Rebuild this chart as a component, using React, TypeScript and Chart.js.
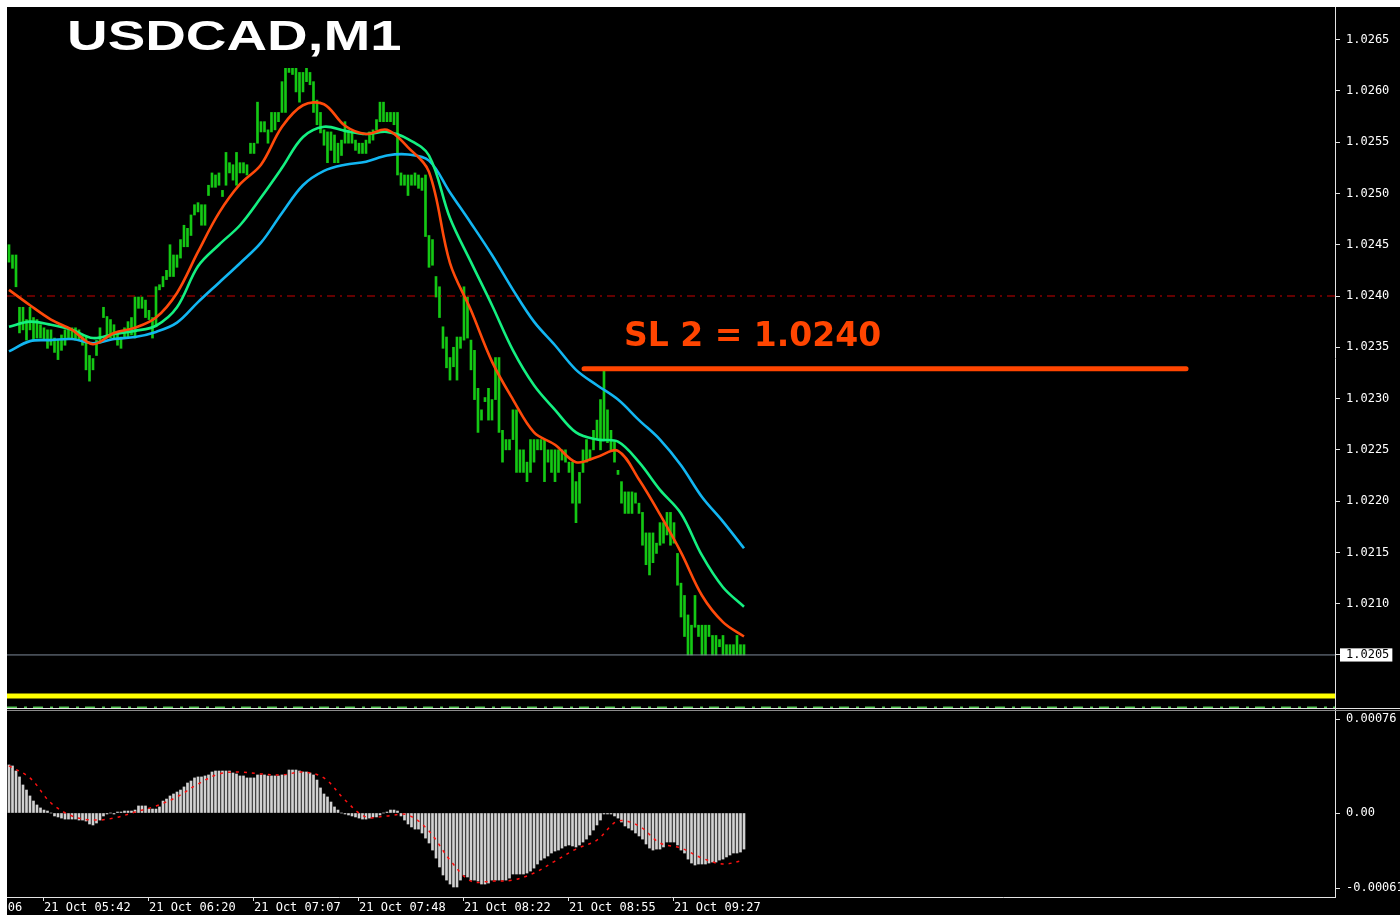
import React, { useEffect, useRef } from "react";
import { Chart, registerables } from "chart.js";
Chart.register(...registerables);

// ---------- data ----------
const BAR_HIGH = [
  1.0245, 1.0244, 1.0244, 1.02389, 1.02389, 1.02377, 1.02389, 1.02379, 1.02377, 1.02372,
  1.02369, 1.02367, 1.02367, 1.02359, 1.02357, 1.02362, 1.02367, 1.02369, 1.02369, 1.02369,
  1.02367, 1.02362, 1.0236, 1.02342, 1.02339, 1.02357, 1.02369, 1.02389, 1.0238, 1.02377,
  1.02372, 1.02365, 1.0236, 1.02369, 1.02375, 1.02379, 1.02399, 1.02399, 1.02399, 1.02396,
  1.02386, 1.02379, 1.02409, 1.02411, 1.02419, 1.02425, 1.0245, 1.0244, 1.0244, 1.02455,
  1.02469, 1.02466, 1.02479, 1.02489, 1.02491, 1.02489, 1.02489, 1.02508, 1.0252, 1.02518,
  1.0252, 1.02503, 1.0254, 1.0253, 1.02528, 1.0254, 1.0253, 1.0253, 1.02528, 1.02549,
  1.02549, 1.02589, 1.0257, 1.0257, 1.02562, 1.02579, 1.02579, 1.02579, 1.02609, 1.02622,
  1.02622, 1.02622, 1.02622, 1.02618, 1.02618, 1.02622, 1.02618, 1.02609, 1.02591, 1.02579,
  1.02562, 1.0256, 1.0256, 1.02557, 1.02549, 1.02552, 1.0257, 1.02562, 1.02559, 1.02552,
  1.02549, 1.02549, 1.02552, 1.0256, 1.02562, 1.02572, 1.02589, 1.02589, 1.02579, 1.02579,
  1.02579, 1.02579, 1.0252, 1.02518, 1.02518, 1.02518, 1.0252, 1.02518, 1.02515, 1.02518,
  1.02459, 1.02455, 1.02419, 1.02409, 1.0237, 1.0236, 1.0234, 1.0235, 1.0236, 1.0236,
  1.02409, 1.02399, 1.02357, 1.02347, 1.0231, 1.02289, 1.02301, 1.0231, 1.02299, 1.0234,
  1.0234, 1.02269, 1.0226, 1.0226, 1.02289, 1.02289, 1.0225, 1.0225, 1.02238, 1.0226,
  1.0226, 1.0226, 1.0226, 1.0226, 1.0225, 1.0225, 1.0225, 1.0225, 1.0225, 1.0225,
  1.02238, 1.02238, 1.02219, 1.02228, 1.0225, 1.0226, 1.0225, 1.02269, 1.02279, 1.02299,
  1.0233, 1.02289, 1.02269, 1.02258, 1.0223, 1.02219, 1.02209, 1.02209, 1.02209, 1.02208,
  1.02198, 1.02189, 1.02169, 1.02169, 1.02169, 1.02159, 1.02179, 1.02179, 1.02189, 1.02189,
  1.02179, 1.02149, 1.0212, 1.02108, 1.02089, 1.02079, 1.02108, 1.02079, 1.02079, 1.02079,
  1.02079, 1.02069, 1.02069, 1.02065, 1.02069, 1.0206, 1.0206, 1.0206, 1.02069, 1.0206,
  1.0206,
];
const BAR_LOW = [
  1.02433, 1.02427, 1.02409, 1.02364, 1.02367, 1.02357, 1.02367, 1.02357, 1.02359, 1.02359,
  1.02357, 1.02349, 1.02352, 1.02345, 1.02338, 1.02347, 1.02352, 1.02359, 1.02359, 1.02357,
  1.02357, 1.02352, 1.02328, 1.02317, 1.02328, 1.02342, 1.02354, 1.02379, 1.02359, 1.02359,
  1.02359, 1.02352, 1.02349, 1.02359, 1.02359, 1.02362, 1.02359, 1.02388, 1.02388, 1.02379,
  1.02377, 1.02359, 1.0237, 1.02406, 1.02409, 1.02416, 1.02419, 1.02419, 1.02428, 1.02437,
  1.02448, 1.02448, 1.02459, 1.02479, 1.02482, 1.02469, 1.02469, 1.02498, 1.02506, 1.02506,
  1.02508, 1.02497, 1.02508, 1.0252, 1.02513, 1.02508, 1.0252, 1.0252, 1.02518, 1.02539,
  1.02539, 1.02549, 1.0256, 1.0256, 1.02549, 1.0256, 1.02562, 1.0257, 1.02579, 1.02579,
  1.02618, 1.02616, 1.02599, 1.02589, 1.02599, 1.02609, 1.02606, 1.02579, 1.02567, 1.02559,
  1.02547, 1.0253, 1.02542, 1.0253, 1.0253, 1.02537, 1.02549, 1.02549, 1.02549, 1.02542,
  1.02539, 1.02539, 1.02539, 1.02549, 1.02552, 1.02562, 1.0257, 1.0257, 1.0257, 1.0257,
  1.02567, 1.02518, 1.02508, 1.02508, 1.02498, 1.02508, 1.02508, 1.02505, 1.02503, 1.02458,
  1.02428, 1.0243, 1.02399, 1.02379, 1.02349, 1.0233, 1.02318, 1.02331, 1.02318, 1.02349,
  1.02357, 1.02359, 1.02328, 1.02299, 1.02267, 1.02279, 1.02297, 1.02279, 1.02279, 1.02299,
  1.02267, 1.02238, 1.0225, 1.0225, 1.0226, 1.02228, 1.02228, 1.02228, 1.02219, 1.02228,
  1.02238, 1.0225, 1.0225, 1.02219, 1.02238, 1.02228, 1.02219, 1.02228, 1.0224, 1.02238,
  1.02228, 1.02198, 1.02179, 1.02198, 1.02228, 1.02238, 1.0224, 1.0225, 1.0226, 1.0225,
  1.0226, 1.02257, 1.0225, 1.02238, 1.02226, 1.02198, 1.02188, 1.02188, 1.02188, 1.02198,
  1.02188, 1.02157, 1.02138, 1.02128, 1.0214, 1.02149, 1.02157, 1.02159, 1.02167, 1.02157,
  1.02159, 1.02118, 1.02087, 1.02068, 1.0205, 1.0205, 1.02077, 1.02068, 1.0205, 1.0205,
  1.02068, 1.0205, 1.0205, 1.02058, 1.0205, 1.0205, 1.0205, 1.0205, 1.0205, 1.0205,
  1.0205,
];

const MA_INDEX = [
  0, 6, 12, 18, 24, 30, 36, 42, 48, 54, 60, 66, 72, 78, 84, 90, 96, 102,
  108, 114, 120, 126, 132, 138, 144, 150, 156, 162, 168, 174, 180, 186, 192, 198, 204, 210,
];
const MA_FAST = [
  1.02406, 1.02391, 1.02377, 1.02367, 1.02353, 1.02364, 1.02369, 1.02379, 1.02403, 1.02443,
  1.02481, 1.02509, 1.02528, 1.02565, 1.02586, 1.02587, 1.02566, 1.02558, 1.02562, 1.02545,
  1.02521, 1.02432, 1.02386, 1.02336, 1.02299, 1.02267, 1.02255, 1.02238, 1.02243, 1.02249,
  1.02221, 1.02187, 1.0215, 1.02108, 1.02082, 1.02068,
];
const MA_MID = [
  1.0237, 1.02375, 1.02372, 1.02367, 1.02359, 1.02363, 1.02366, 1.02371, 1.02389, 1.02429,
  1.0245, 1.02469, 1.02496, 1.02525, 1.02555, 1.02565, 1.02561, 1.02558, 1.0256, 1.02553,
  1.02537, 1.02476, 1.02433, 1.02391, 1.02347, 1.02313, 1.02289, 1.02267, 1.0226, 1.02258,
  1.02238, 1.02211, 1.02188, 1.02147, 1.02116, 1.02097,
];
const MA_SLOW = [
  1.02346, 1.02356, 1.02357, 1.02358, 1.02354, 1.02358, 1.0236, 1.02365, 1.02374, 1.02394,
  1.02413, 1.02432, 1.02452, 1.02481, 1.02508, 1.02522, 1.02528, 1.02531, 1.02537, 1.02538,
  1.02532, 1.02501, 1.02471, 1.0244, 1.02406, 1.02375, 1.02352, 1.02328, 1.02313, 1.02299,
  1.02279, 1.0226, 1.02235, 1.02204, 1.0218, 1.02154,
];

const MACD_HIST = [
  0.000389, 0.000381, 0.00034, 0.000292, 0.000227, 0.000186, 0.000138, 0.000097, 0.000065, 0.000041,
  0.000024, 0.000016, 0, -0.000024, -0.000032, -0.000041, -0.000049, -0.000049, -0.000049, -0.000049,
  -0.000057, -0.000057, -0.000065, -0.000089, -0.000097, -0.000081, -0.000057, -0.000024, -0.000008, 0,
  -0.000008, 0.000008, 0.000008, 0.000016, 0.000016, 0.000016, 0.000024, 0.000057, 0.000057, 0.000057,
  0.000032, 0.000032, 0.000032, 0.000049, 0.000097, 0.000113, 0.000138, 0.000154, 0.00017, 0.000186,
  0.000211, 0.000243, 0.000259, 0.000284, 0.000292, 0.000292, 0.0003, 0.000308, 0.000332, 0.00034,
  0.00034, 0.00034, 0.00034, 0.00034, 0.000324, 0.000316, 0.0003, 0.0003, 0.000284, 0.000284,
  0.000284, 0.000308, 0.000308, 0.000308, 0.0003, 0.0003, 0.0003, 0.0003, 0.000308, 0.000308,
  0.000348, 0.000348, 0.000348, 0.00034, 0.000332, 0.000332, 0.000324, 0.000308, 0.000267, 0.000203,
  0.000154, 0.00013, 0.000089, 0.000049, 0.000024, 0, -0.000008, -0.000016, -0.000024, -0.000032,
  -0.000041, -0.000049, -0.000049, -0.000041, -0.000032, -0.000032, -0.000016, 0, 0.000008, 0.000024,
  0.000024, 0.000016, -0.000024, -0.000057, -0.000089, -0.000113, -0.00013, -0.00013, -0.000162, -0.000203,
  -0.000243, -0.0003, -0.000365, -0.000437, -0.000502, -0.000543, -0.000575, -0.000599, -0.000599, -0.000543,
  -0.000502, -0.000518, -0.000543, -0.000543, -0.000551, -0.000575, -0.000575, -0.000567, -0.000543, -0.000543,
  -0.000543, -0.000543, -0.000543, -0.000527, -0.000494, -0.000494, -0.000494, -0.000494, -0.000486, -0.00047,
  -0.000446, -0.000413, -0.000381, -0.000365, -0.000348, -0.000324, -0.000308, -0.0003, -0.000284, -0.000267,
  -0.000259, -0.000267, -0.000275, -0.000259, -0.000235, -0.000211, -0.000178, -0.000138, -0.000097, -0.000057,
  -0.000008, -0.000008, -0.000008, -0.000024, -0.000041, -0.000073, -0.000105, -0.000122, -0.000138, -0.000162,
  -0.000186, -0.000211, -0.000251, -0.000284, -0.0003, -0.000292, -0.000292, -0.000275, -0.000235, -0.000235,
  -0.000235, -0.000259, -0.0003, -0.000324, -0.000373, -0.000405, -0.000421, -0.000413, -0.000413, -0.000413,
  -0.000405, -0.000397, -0.000397, -0.000381, -0.000373, -0.000356, -0.00034, -0.000324, -0.000324, -0.000316,
  -0.000292,
];
const MACD_SIGNAL = [
  0.000381, 0.000284, 0.000081, -0.000024, -0.000057, -0.000041, 0.000008, 0.000057, 0.00013, 0.000235,
  0.000316, 0.000332, 0.000316, 0.000308, 0.000332, 0.000284, 0.000105, -0.000032, -0.000024, -0.000016,
  -0.000146, -0.000381, -0.000551, -0.000551, -0.000543, -0.000486, -0.000389, -0.000292, -0.000219, -0.000065,
  -0.000105, -0.000243, -0.000284, -0.000365, -0.000413, -0.000381,
];

const PRICE_TICKS = [
  1.0205, 1.021, 1.0215, 1.022, 1.0225, 1.023, 1.0235, 1.024, 1.0245, 1.025, 1.0255, 1.026, 1.0265,
];
const MACD_TICKS = [0.00076, 0, -0.00061];
const MACD_TICK_LABELS = ["0.00076", "0.00", "-0.00061"];
const TIME_TICK_INDEX = [-21, 10, 40, 70, 100, 130, 160, 190];
const TIME_TICK_LABELS = [
  "21 Oct 05:06", "21 Oct 05:42", "21 Oct 06:20", "21 Oct 07:07",
  "21 Oct 07:48", "21 Oct 08:22", "21 Oct 08:55", "21 Oct 09:27",
];

const LEVEL_SL_DASH = 1.024;
const LEVEL_BID = 1.0205;
const LEVEL_YELLOW = 1.0201;
const LEVEL_GREEN = 1.01999;
const SL_LINE_INDEX = [164.3, 336.3];
const SL_LINE_PRICE = 1.02329;
const SL_TEXT = "SL 2 = 1.0240";
const SL_TEXT_INDEX = 175.7;
const SL_TEXT_PRICE = 1.02351;
const TITLE = "USDCAD,M1";

const X_MIN = -0.57;
const X_MAX = 378.86;
const PRICE_MIN = 1.019973;
const PRICE_MAX = 1.026818;
const MACD_MIN = -0.00068;
const MACD_MAX = 0.000842;

// ---------- helpers ----------
const AXIS_COLOR = "#e4e4e4";
const TICK_FONT = { family: "DejaVu Sans Mono", size: 12, lineHeight: 1.1 };
const isBid = (v: any) => typeof v === "number" && Math.abs(v - LEVEL_BID) < 1e-9;

const hLine = (price: number, color: string, width: number, dash: number[], order: number) => ({
  type: "line" as const,
  data: [
    { x: X_MIN, y: price },
    { x: X_MAX, y: price },
  ],
  borderColor: color,
  borderWidth: width,
  borderDash: dash,
  pointRadius: 0,
  tension: 0,
  order,
});

const maLine = (values: number[], color: string, order: number) => ({
  type: "line" as const,
  data: MA_INDEX.map((x, k) => ({ x, y: values[k] })),
  borderColor: color,
  borderWidth: 2.6,
  pointRadius: 0,
  tension: 0.35,
  order,
});

const topDecor = {
  id: "topDecor",
  afterDraw(chart: any) {
    const { ctx } = chart;
    const xs = chart.scales.x;
    const ys = chart.scales.y;
    ctx.save();
    ctx.fillStyle = "#ff4500";
    ctx.font = 'bold 33px "DejaVu Sans"';
    ctx.textBaseline = "alphabetic";
    ctx.textAlign = "left";
    ctx.fillText(SL_TEXT, xs.getPixelForValue(SL_TEXT_INDEX), ys.getPixelForValue(SL_TEXT_PRICE));
    ctx.restore();

    ctx.save();
    ctx.translate(60, 43);
    ctx.scale(1.34, 1);
    ctx.fillStyle = "#ffffff";
    ctx.font = 'bold 42px "Liberation Sans"';
    ctx.textBaseline = "alphabetic";
    ctx.fillText(TITLE, 0, 0);
    ctx.restore();

    ctx.save();
    ctx.fillStyle = AXIS_COLOR;
    ctx.fillRect(0, chart.height - 1, chart.width, 1);
    ctx.restore();
  },
};

const bottomDecor = {
  id: "bottomDecor",
  afterDraw(chart: any) {
    const { ctx } = chart;
    ctx.save();
    ctx.fillStyle = "#8a8a8a";
    ctx.fillRect(0, 1, chart.width, 1);
    ctx.restore();
  },
};

export default function App() {
  const topRef = useRef<HTMLCanvasElement>(null);
  const botRef = useRef<HTMLCanvasElement>(null);

  useEffect(() => {
    document.body.style.margin = "0";
    document.body.style.overflow = "hidden";

    const top = new Chart(topRef.current as HTMLCanvasElement, {
      type: "bar",
      data: {
        datasets: [
          {
            type: "bar",
            data: BAR_HIGH.map((h, i) => ({ x: i, y: [BAR_LOW[i], h] })) as any,
            backgroundColor: "#14c814",
            borderWidth: 0,
            barThickness: 2,
            grouped: false,
            order: 20,
          } as any,
          hLine(LEVEL_SL_DASH, "#c80000", 1, [8, 5, 2, 5], 12),
          hLine(LEVEL_BID, "#7d8a99", 1, [], 11),
          hLine(LEVEL_YELLOW, "#ffff00", 5, [], 11),
          hLine(LEVEL_GREEN, "#52c452", 1.5, [10, 7, 3, 6], 11),
          maLine(MA_SLOW, "#12b6f2", 4),
          maLine(MA_MID, "#14f080", 3),
          maLine(MA_FAST, "#ff4a0a", 2),
          {
            type: "line",
            data: SL_LINE_INDEX.map((x) => ({ x, y: SL_LINE_PRICE })),
            borderColor: "#ff4500",
            borderWidth: 5,
            borderCapStyle: "round",
            pointRadius: 0,
            order: 1,
          } as any,
        ],
      },
      options: {
        responsive: false,
        animation: false,
        devicePixelRatio: 1,
        events: [],
        layout: { padding: 0 },
        plugins: { legend: { display: false }, tooltip: { enabled: false } },
        scales: {
          x: { type: "linear", display: false, offset: false, min: X_MIN, max: X_MAX, grid: { offset: false } },
          y: {
            type: "linear",
            position: "right",
            min: PRICE_MIN,
            max: PRICE_MAX,
            afterBuildTicks: (s: any) => {
              s.ticks = PRICE_TICKS.map((v) => ({ value: v }));
            },
            afterFit: (s: any) => {
              s.width = 65;
              s.paddingTop = 0;
              s.paddingBottom = 0;
            },
            ticks: {
              autoSkip: false,
              padding: 6,
              font: TICK_FONT,
              color: (c: any) => (isBid(c.tick && c.tick.value) ? "#000000" : "#ffffff"),
              showLabelBackdrop: (c: any) => isBid(c.tick && c.tick.value),
              backdropColor: "#ffffff",
              backdropPadding: { top: 0, bottom: 0, left: 6, right: 3 },
              callback: (v: any) => Number(v).toFixed(4),
            },
            grid: { drawOnChartArea: false, tickLength: 5, color: AXIS_COLOR },
            border: { display: true, color: AXIS_COLOR, width: 1 },
          } as any,
        },
      },
      plugins: [topDecor],
    } as any);

    const bottom = new Chart(botRef.current as HTMLCanvasElement, {
      type: "bar",
      data: {
        datasets: [
          {
            type: "bar",
            data: MACD_HIST.map((v, i) => ({ x: i, y: v })),
            backgroundColor: "#d2d2d2",
            borderWidth: 0,
            barThickness: 2,
            grouped: false,
            order: 5,
          } as any,
          {
            type: "line",
            data: MA_INDEX.map((x, k) => ({ x, y: MACD_SIGNAL[k] })),
            borderColor: "#ff1010",
            borderWidth: 1.5,
            borderDash: [3, 5],
            pointRadius: 0,
            tension: 0.35,
            order: 1,
          } as any,
        ],
      },
      options: {
        responsive: false,
        animation: false,
        devicePixelRatio: 1,
        events: [],
        layout: { padding: 0 },
        plugins: { legend: { display: false }, tooltip: { enabled: false } },
        scales: {
          x: {
            type: "linear",
            position: "bottom",
            offset: false,
            min: X_MIN,
            max: X_MAX,
            afterBuildTicks: (s: any) => {
              s.ticks = TIME_TICK_INDEX.map((v) => ({ value: v }));
            },
            afterFit: (s: any) => {
              s.height = 18;
              s.paddingLeft = 0;
              s.paddingRight = 0;
            },
            ticks: {
              autoSkip: false,
              maxRotation: 0,
              minRotation: 0,
              align: "start",
              padding: 0,
              color: "#ffffff",
              font: { family: "DejaVu Sans Mono", size: 12 },
              callback: (_v: any, i: number) => TIME_TICK_LABELS[i],
            },
            grid: { drawOnChartArea: false, offset: false, tickLength: 4, color: AXIS_COLOR },
            border: { display: true, color: AXIS_COLOR, width: 1 },
          } as any,
          y: {
            type: "linear",
            position: "right",
            min: MACD_MIN,
            max: MACD_MAX,
            afterBuildTicks: (s: any) => {
              s.ticks = MACD_TICKS.map((v) => ({ value: v }));
            },
            afterFit: (s: any) => {
              s.width = 65;
              s.paddingTop = 0;
              s.paddingBottom = 0;
            },
            ticks: {
              autoSkip: false,
              padding: 6,
              font: TICK_FONT,
              color: "#ffffff",
              callback: (_v: any, i: number) => MACD_TICK_LABELS[i],
            },
            grid: { drawOnChartArea: false, tickLength: 5, color: AXIS_COLOR },
            border: { display: true, color: AXIS_COLOR, width: 1 },
          } as any,
        },
      },
      plugins: [bottomDecor],
    } as any);

    return () => {
      top.destroy();
      bottom.destroy();
    };
  }, []);

  return (
    <div style={{ position: "fixed", left: 0, top: 0, width: 1400, height: 915, background: "#ffffff", overflow: "hidden" }}>
      <canvas
        ref={topRef}
        width={1393}
        height={702}
        style={{ position: "absolute", left: 7, top: 7, width: 1393, height: 702, background: "#000000" }}
      />
      <canvas
        ref={botRef}
        width={1393}
        height={206}
        style={{ position: "absolute", left: 7, top: 709, width: 1393, height: 206, background: "#000000" }}
      />
    </div>
  );
}
